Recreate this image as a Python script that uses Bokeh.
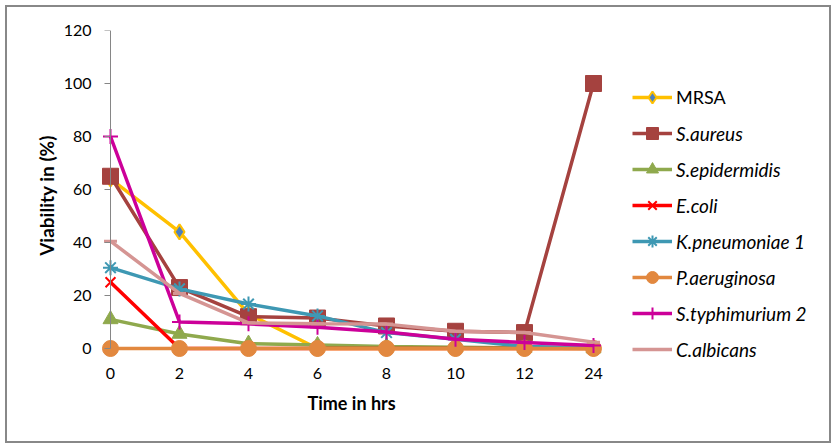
from bokeh.plotting import figure
from bokeh.models import (Range1d, FixedTicker, Legend, LegendItem, LinearAxis, Title)
from bokeh.embed import file_html
from bokeh.resources import INLINE

x_labels = ["0", "2", "4", "6", "8", "10", "12", "24"]
series_names = ["MRSA", "S.aureus", "S.epidermidis", "E.coli", "K.pneumoniae 1",
                "P.aeruginosa", "S.typhimurium 2", "C.albicans"]
mrsa = [64, 44, 13, 0, 0, 0, 0, 0]
s_aureus = [65, 23, 12, 11.5, 8.5, 6.5, 6, 100]
s_epidermidis = [11, 5.5, 1.8, 1.3, 0.8, 0.5, 0.2, 0]
e_coli = [25, 0, 0, 0, 0, 0, 0, 0]
k_pneumoniae = [30.5, 22.5, 16.8, 12.3, 6, 3.5, 0.8, 0.3]
p_aeruginosa = [0, 0, 0, 0, 0, 0, 0, 0]
s_typhimurium = [80, 10, 9.3, 8, 6.2, 3.5, 2.3, 1.1]
c_albicans = [40.5, 20.8, 9.7, 9.3, 9.2, 6.5, 6, 2.4]
y_ticks = [0, 20, 40, 60, 80, 100, 120]

values = [mrsa, s_aureus, s_epidermidis, e_coli, k_pneumoniae,
          p_aeruginosa, s_typhimurium, c_albicans]
line_colors = ["#FFC000", "#A5423F", "#8FA94D", "#FF0000", "#3E98B3",
               "#E2883F", "#CC0099", "#D59593"]
markers = ["diamond", "square", "triangle", "x", "asterisk", "circle", "cross", "dash"]
marker_fill = ["#4F81BD", "#A5423F", "#8FA94D", "#FF0000", "#3E98B3",
               "#E2883F", "#CC0099", "#D59593"]
marker_line = ["#FFC000", "#A5423F", "#8FA94D", "#FF0000", "#3E98B3",
               "#E2883F", "#CC0099", "#D59593"]
marker_size = [15, 16, 15, 14, 15, 16, 15, 13]
marker_lw = [2, 1, 1, 2, 2, 1, 2, 3]

xs = list(range(len(x_labels)))
FONT = "Lato"
GRAY = "#868686"

p = figure(width=836, height=448, output_backend="svg", toolbar_location=None,
           min_border_left=100, min_border_right=7, min_border_top=30,
           min_border_bottom=88, frame_width=729, frame_height=330)
p.x_range = Range1d(-10 / 69, (829 - 110) / 69)
p.y_range = Range1d(120 - 330 / 2.65, 120)
p.xgrid.visible = False
p.ygrid.visible = False
p.outline_line_color = None
p.background_fill_alpha = 0
p.border_fill_alpha = 0
p.styles = {"outline": "2px solid #888888", "outline-offset": "-7px",
            "background-color": "white"}

# y axis: labels (default axis) + line/ticks at x=0 (fixed axis)
p.yaxis.ticker = FixedTicker(ticks=y_ticks)
p.yaxis.minor_tick_line_color = None
p.yaxis.axis_line_color = None
p.yaxis.major_tick_line_color = None
p.yaxis.major_tick_out = 0
p.yaxis.major_tick_in = 0
p.yaxis.major_label_text_font = FONT
p.yaxis.major_label_text_font_size = "16px"
p.yaxis.major_label_text_color = "black"
p.yaxis.major_label_standoff = 9
p.yaxis.axis_label = "Viability in (%)"
p.yaxis.axis_label_text_font = FONT
p.yaxis.axis_label_text_font_style = "bold"
p.yaxis.axis_label_text_font_size = "19px"
p.yaxis.axis_label_text_color = "black"
p.yaxis.axis_label_standoff = 3

yline = LinearAxis(fixed_location=0, ticker=FixedTicker(ticks=y_ticks),
                   bounds=(min(y_ticks), max(y_ticks)),
                   axis_line_color=GRAY, major_tick_line_color=GRAY,
                   major_tick_out=6, major_tick_in=0, minor_tick_line_color=None,
                   major_label_text_alpha=0, major_label_text_font_size="1px",
                   major_label_standoff=0)
p.add_layout(yline, "left")

# x axis
p.xaxis.ticker = FixedTicker(ticks=xs)
p.xaxis.major_label_overrides = {i: lab for i, lab in zip(xs, x_labels)}
p.xaxis.axis_line_color = None
p.xaxis.major_tick_line_color = None
p.xaxis.minor_tick_line_color = None
p.xaxis.major_label_text_font = FONT
p.xaxis.major_label_text_font_size = "16px"
p.xaxis.major_label_text_color = "black"
p.xaxis.major_label_standoff = 1

xtitle = Title(text="Time in hrs", align="left", offset=207,
               text_font=FONT, text_font_style="bold", text_font_size="18px",
               text_color="black", standoff=17)
p.add_layout(xtitle, "below")

items = []
for name, ys, lc, mk, mf, ml, ms, mlw in zip(series_names, values, line_colors, markers,
                                               marker_fill, marker_line, marker_size, marker_lw):
    r1 = p.line(xs, ys, line_color=lc, line_width=3.5)
    r2 = p.scatter(xs, ys, marker=mk, size=ms, fill_color=mf, line_color=ml, line_width=mlw)
    items.append(LegendItem(label=name, renderers=[r1, r2]))

common = dict(glyph_width=40, glyph_height=30, label_height=20, spacing=6,
              padding=0, margin=0, border_line_color=None, background_fill_alpha=0,
              label_text_font=FONT, label_text_color="black", label_standoff=4)
leg1 = Legend(items=items[:1], location=(532, 248), label_text_font_style="normal",
              label_text_font_size="18px", **common)
leg2 = Legend(items=items[1:], location=(532, -4), label_text_font_style="italic",
              label_text_font_size="19px", **common)
p.add_layout(leg1)
p.add_layout(leg2)

open("out.html", "w").write(file_html(p, INLINE))
